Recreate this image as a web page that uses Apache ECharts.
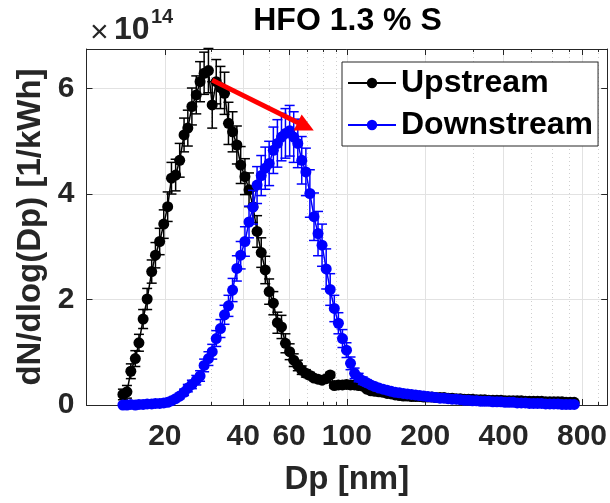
<!DOCTYPE html>
<html><head><meta charset="utf-8">
<script src="https://cdn.jsdelivr.net/npm/echarts@6/dist/echarts.min.js"></script>
<style>html,body{margin:0;padding:0;background:#fff}#c{width:610px;height:503px}</style>
</head><body><div id="c"></div><script>
// Particle diameter bins [nm]
const dp = [
 13.8, 14.3, 14.8, 15.4, 15.9, 16.5, 17.1, 17.8, 18.4, 19.1,
 19.8, 20.5, 21.2, 22.0, 22.8, 23.7, 24.5, 25.4, 26.4, 27.3,
 28.3, 29.4, 30.4, 31.5, 32.7, 33.9, 35.1, 36.4, 37.8, 39.1,
 40.6, 42.1, 43.6, 45.2, 46.9, 48.6, 50.3, 52.2, 54.1, 56.1,
 58.1, 60.3, 62.5, 64.8, 67.1, 69.6, 72.1, 74.8, 77.5, 80.3,
 83.3, 86.3, 89.5, 92.8, 96.2, 99.7, 103.3, 107.1, 111.0, 115.1,
 119.3, 123.7, 128.2, 132.9, 137.8, 142.8, 148.0, 153.4, 159.1, 164.9,
 170.9, 177.2, 183.7, 190.4, 197.4, 204.6, 212.1, 219.9, 227.9, 236.3,
 244.9, 253.9, 263.2, 272.8, 282.8, 293.2, 303.9, 315.0, 326.6, 338.5,
 350.9, 363.8, 377.1, 390.9, 405.2, 420.1, 435.4, 451.4, 467.9, 485.1,
 502.8, 521.2, 540.3, 560.1, 580.6, 601.9, 623.9, 646.8, 670.5, 695.0,
 720.5, 746.9
];
// dN/dlog(Dp) in units of 1e14 per kWh
const upstream = [
 0.20, 0.25, 0.64, 0.88, 1.18, 1.63, 2.01, 2.53, 2.84, 3.10,
 3.43, 3.76, 4.30, 4.36, 4.64, 5.12, 5.25, 5.66, 5.88, 6.13,
 6.29, 6.34, 5.69, 6.13, 6.02, 5.91, 5.34, 5.18, 4.93, 4.55,
 4.33, 4.08, 3.76, 3.29, 2.89, 2.56, 2.15, 1.93, 1.56, 1.48,
 1.17, 1.01, 0.85, 0.75, 0.66, 0.60, 0.56, 0.51, 0.49, 0.47,
 0.50, 0.57, 0.37, 0.38, 0.38, 0.39, 0.38, 0.38, 0.37, 0.36,
 0.30, 0.27, 0.26, 0.25, 0.24, 0.22, 0.21, 0.19, 0.18, 0.17,
 0.17, 0.16, 0.16, 0.16, 0.15, 0.15, 0.15, 0.14, 0.14, 0.14,
 0.13, 0.13, 0.12, 0.12, 0.11, 0.11, 0.11, 0.10, 0.10, 0.10,
 0.09, 0.09, 0.09, 0.09, 0.08, 0.08, 0.08, 0.08, 0.08, 0.07,
 0.07, 0.07, 0.07, 0.07, 0.06, 0.06, 0.06, 0.06, 0.06, 0.05,
 0.05, 0.05
];
const upstreamErr = [
 0.10, 0.12, 0.14, 0.15, 0.16, 0.18, 0.20, 0.22, 0.24, 0.25,
 0.27, 0.28, 0.30, 0.30, 0.32, 0.32, 0.34, 0.35, 0.36, 0.38,
 0.40, 0.42, 0.44, 0.42, 0.40, 0.40, 0.40, 0.38, 0.36, 0.35,
 0.34, 0.32, 0.30, 0.30, 0.28, 0.26, 0.24, 0.22, 0.20, 0.22,
 0.18, 0.15, 0.12, 0.10, 0.08, 0.07, 0.06, 0.05, 0.05, 0.05,
 0.05, 0.05, 0.05, 0.04, 0.04, 0.04, 0.04, 0.04, 0.04, 0.04,
 0.04, 0.03, 0.03, 0.03, 0.03, 0.03, 0.03, 0.03, 0.02, 0.02,
 0.02, 0.02, 0.02, 0.02, 0.02, 0.02, 0.02, 0.02, 0.02, 0.02,
 0.02, 0.02, 0.02, 0.02, 0.02, 0.02, 0.02, 0.02, 0.02, 0.02,
 0.02, 0.02, 0.02, 0.02, 0.02, 0.02, 0.02, 0.02, 0.02, 0.02,
 0.02, 0.02, 0.02, 0.02, 0.02, 0.02, 0.02, 0.02, 0.02, 0.02,
 0.02, 0.02
];
const downstream = [
 0.00, 0.00, 0.01, 0.00, 0.01, 0.01, 0.02, 0.02, 0.03, 0.03,
 0.04, 0.05, 0.08, 0.12, 0.17, 0.24, 0.32, 0.39, 0.47, 0.55,
 0.75, 0.88, 1.01, 1.26, 1.45, 1.71, 1.88, 2.18, 2.59, 2.84,
 3.10, 3.47, 3.75, 4.17, 4.35, 4.49, 4.58, 4.83, 4.96, 5.08,
 5.15, 5.20, 5.08, 4.96, 4.64, 4.42, 4.01, 3.57, 3.25, 3.03,
 2.58, 2.19, 1.83, 1.55, 1.26, 1.04, 0.79, 0.60, 0.52, 0.46,
 0.42, 0.38, 0.35, 0.32, 0.30, 0.28, 0.26, 0.24, 0.23, 0.22,
 0.21, 0.20, 0.19, 0.18, 0.17, 0.16, 0.15, 0.14, 0.13, 0.13,
 0.12, 0.11, 0.11, 0.10, 0.09, 0.09, 0.08, 0.08, 0.07, 0.07,
 0.07, 0.06, 0.06, 0.06, 0.05, 0.05, 0.05, 0.04, 0.04, 0.04,
 0.03, 0.03, 0.03, 0.03, 0.02, 0.02, 0.02, 0.02, 0.01, 0.01,
 0.01, 0.01
];
const downstreamErr = [
 0.01, 0.01, 0.01, 0.01, 0.01, 0.01, 0.01, 0.01, 0.02, 0.02,
 0.02, 0.02, 0.03, 0.04, 0.05, 0.06, 0.07, 0.08, 0.09, 0.10,
 0.12, 0.13, 0.14, 0.15, 0.17, 0.18, 0.20, 0.22, 0.24, 0.26,
 0.28, 0.30, 0.32, 0.35, 0.38, 0.40, 0.42, 0.44, 0.45, 0.45,
 0.47, 0.48, 0.48, 0.46, 0.45, 0.45, 0.45, 0.45, 0.42, 0.40,
 0.38, 0.30, 0.25, 0.20, 0.17, 0.14, 0.12, 0.10, 0.08, 0.07,
 0.06, 0.05, 0.05, 0.04, 0.04, 0.04, 0.03, 0.03, 0.03, 0.03,
 0.02, 0.02, 0.02, 0.02, 0.02, 0.02, 0.02, 0.02, 0.02, 0.02,
 0.02, 0.02, 0.02, 0.02, 0.01, 0.01, 0.01, 0.01, 0.01, 0.01,
 0.01, 0.01, 0.01, 0.01, 0.01, 0.01, 0.01, 0.01, 0.01, 0.01,
 0.01, 0.01, 0.01, 0.01, 0.01, 0.01, 0.01, 0.01, 0.01, 0.01,
 0.01, 0.01
];
const seriesNames = ['Upstream', 'Downstream'];
const seriesColors = ['#000000', '#0000ff'];
const xTickLabels = [20, 40, 60, 100, 200, 400, 800];
const xMinorTicks = [30, 50, 70, 80, 90, 300, 500, 600, 700, 900];
const xRange = [10, 1000];
const yRange = [0, 6.75];
const yInterval = 2;
const titleText = 'HFO 1.3 % S';
const xName = 'Dp [nm]';
const yName = 'dN/dlog(Dp) [1/kWh]';
const arrowFrom = [30.4, 6.16];
const arrowTo = [69.5, 5.28];

const FONT = "'Liberation Sans', Arial, Helvetica, sans-serif";
const AX = '#262626';
const lg = v => Math.log10(v);

const chart = echarts.init(document.getElementById('c'), null, {renderer: 'canvas'});

function pts(vals) { return dp.map((d, i) => [lg(d), vals[i]]); }
function errPts(vals, errs) { return dp.map((d, i) => [lg(d), vals[i], errs[i]]); }

function errorBar(color) {
  return function (params, api) {
    const x = api.value(0), y = api.value(1), e = api.value(2);
    const lo = api.coord([x, y - e]);
    const hi = api.coord([x, y + e]);
    const w = 5;
    const st = {stroke: color, lineWidth: 1.5};
    return {type: 'group', children: [
      {type: 'line', shape: {x1: lo[0], y1: lo[1], x2: hi[0], y2: hi[1]}, style: st},
      {type: 'line', shape: {x1: lo[0] - w, y1: lo[1], x2: lo[0] + w, y2: lo[1]}, style: st},
      {type: 'line', shape: {x1: hi[0] - w, y1: hi[1], x2: hi[0] + w, y2: hi[1]}, style: st}
    ]};
  };
}

const gridRect = {left: 86.5, top: 49, right: 0, bottom: 98};
const labelVals = xTickLabels.map(lg);
const minorVals = xMinorTicks.map(lg);

const option = {
  backgroundColor: '#ffffff',
  animation: false,
  grid: [Object.assign({}, gridRect), Object.assign({}, gridRect)],
  graphic: [
    {type: 'text', x: 347.5, y: 21, style: {text: titleText, align: 'center', verticalAlign: 'middle', font: "bold 32px " + FONT, fill: '#000'}},
    {type: 'text', x: 90, y: 33, style: {text: '\u00d7', align: 'left', verticalAlign: 'middle', font: "32px " + FONT, fill: AX}},
    {type: 'text', x: 114, y: 30, style: {text: '10', align: 'left', verticalAlign: 'middle', font: "bold 32px " + FONT, fill: AX}},
    {type: 'text', x: 151, y: 17, style: {text: '14', align: 'left', verticalAlign: 'middle', font: "bold 20px " + FONT, fill: AX}}
  ],
  legend: {
    orient: 'vertical', left: 342, top: 62,
    data: seriesNames,
    itemWidth: 48, itemHeight: 13, itemGap: 6,
    padding: [3, 5, 3, 5],
    backgroundColor: '#fff', borderColor: AX, borderWidth: 1,
    textStyle: {fontFamily: FONT, fontWeight: 'bold', fontSize: 32, color: '#000', lineHeight: 36}
  },
  xAxis: [
    {type: 'value', gridIndex: 0, position: 'bottom', min: lg(xRange[0]), max: lg(xRange[1]),
     axisLine: {show: true, onZero: false, lineStyle: {color: AX, width: 1}},
     axisTick: {show: true, inside: true, length: 6, customValues: labelVals, lineStyle: {color: AX}},
     axisLabel: {customValues: labelVals, formatter: v => String(Math.round(Math.pow(10, v))), margin: 17,
       fontFamily: FONT, fontSize: 30, fontWeight: 'bold', color: AX},
     splitLine: {show: true, lineStyle: {color: '#e2e2e2', width: 1}},
     name: xName, nameLocation: 'middle', nameGap: 58,
     nameTextStyle: {fontFamily: FONT, fontSize: 33, fontWeight: 'bold', color: AX}},
    {type: 'value', gridIndex: 0, position: 'top', min: lg(xRange[0]), max: lg(xRange[1]),
     axisLine: {show: true, onZero: false, lineStyle: {color: AX, width: 1}},
     axisTick: {show: true, inside: true, length: 6, customValues: labelVals, lineStyle: {color: AX}},
     axisLabel: {show: false}, splitLine: {show: false}},
    {type: 'value', gridIndex: 1, position: 'bottom', min: lg(xRange[0]), max: lg(xRange[1]),
     axisLine: {show: false, onZero: false},
     axisTick: {show: true, inside: true, length: 3, customValues: minorVals, lineStyle: {color: AX}},
     axisLabel: {show: false},
     splitLine: {show: true, lineStyle: {color: '#cfcfcf', width: 1, type: [1, 3]}}},
    {type: 'value', gridIndex: 1, position: 'top', min: lg(xRange[0]), max: lg(xRange[1]),
     axisLine: {show: false, onZero: false},
     axisTick: {show: true, inside: true, length: 3, customValues: minorVals, lineStyle: {color: AX}},
     axisLabel: {show: false}, splitLine: {show: false}}
  ],
  yAxis: [
    {type: 'value', gridIndex: 0, position: 'left', min: yRange[0], max: yRange[1], interval: yInterval,
     axisLine: {show: true, onZero: false, lineStyle: {color: AX, width: 1}},
     axisTick: {show: true, inside: true, length: 6, lineStyle: {color: AX}},
     axisLabel: {margin: 12, fontFamily: FONT, fontSize: 30, fontWeight: 'bold', color: AX, showMaxLabel: false,
       formatter: v => String(Math.round(v))},
     splitLine: {show: true, lineStyle: {color: '#e2e2e2', width: 1}},
     name: yName, nameLocation: 'middle', nameGap: 38,
     nameTextStyle: {fontFamily: FONT, fontSize: 33, fontWeight: 'bold', color: AX}},
    {type: 'value', gridIndex: 0, position: 'right', min: yRange[0], max: yRange[1], interval: yInterval,
     axisLine: {show: true, onZero: false, lineStyle: {color: AX, width: 1}},
     axisTick: {show: true, inside: true, length: 6, lineStyle: {color: AX}},
     axisLabel: {show: false}, splitLine: {show: false}},
    {type: 'value', gridIndex: 1, min: 0, max: 1, show: false}
  ],
  series: [
    {type: 'custom', name: 'upErr', xAxisIndex: 0, yAxisIndex: 0, data: errPts(upstream, upstreamErr),
     renderItem: errorBar(seriesColors[0]), z: 2, silent: true},
    {type: 'line', name: seriesNames[0], xAxisIndex: 0, yAxisIndex: 0, data: pts(upstream),
     symbol: 'circle', symbolSize: 11, showAllSymbol: true,
     itemStyle: {color: seriesColors[0]}, lineStyle: {color: seriesColors[0], width: 1.5}, z: 3},
    {type: 'custom', name: 'downErr', xAxisIndex: 0, yAxisIndex: 0, data: errPts(downstream, downstreamErr),
     renderItem: errorBar(seriesColors[1]), z: 4, silent: true},
    {type: 'line', name: seriesNames[1], xAxisIndex: 0, yAxisIndex: 0, data: pts(downstream),
     symbol: 'circle', symbolSize: 11, showAllSymbol: true,
     itemStyle: {color: seriesColors[1]}, lineStyle: {color: seriesColors[1], width: 1.5}, z: 5,
     markLine: {
       silent: true, symbol: ['none', 'triangle'], symbolSize: 18, z: 10,
       lineStyle: {color: '#ff0000', width: 5, type: 'solid'},
       label: {show: false},
       data: [[{coord: [lg(arrowFrom[0]), arrowFrom[1]]}, {coord: [lg(arrowTo[0]), arrowTo[1]]}]]
     }}
  ]
};
chart.setOption(option);
</script></body></html>
